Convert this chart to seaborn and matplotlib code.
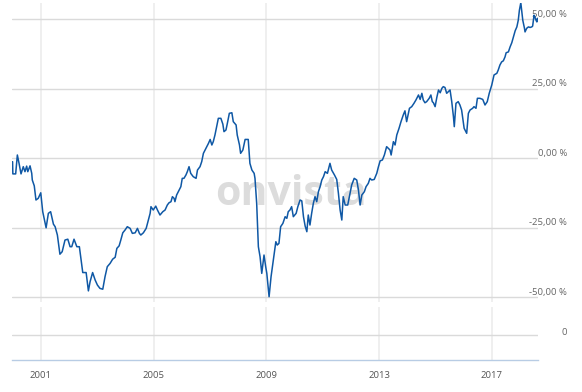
import pandas as pd
import matplotlib
matplotlib.use('Agg')
import matplotlib.pyplot as plt
import matplotlib.transforms as mtransforms
import seaborn as sns

# Performance in %, x as fractional year
years = [
    2000.00, 2000.01, 2000.11, 2000.17, 2000.23, 2000.30, 2000.38, 2000.44, 2000.50, 2000.54,
    2000.62, 2000.68, 2000.70, 2000.77, 2000.83, 2000.91,
    2001.00, 2001.07, 2001.19, 2001.27, 2001.35, 2001.45, 2001.51, 2001.59, 2001.68, 2001.76,
    2001.86, 2001.96,
    2002.04, 2002.10, 2002.18, 2002.28, 2002.37, 2002.49, 2002.61, 2002.69, 2002.75, 2002.84,
    2002.93,
    2003.01, 2003.10, 2003.20, 2003.28, 2003.36, 2003.46, 2003.55, 2003.64, 2003.70, 2003.78,
    2003.84, 2003.91, 2003.99,
    2004.07, 2004.17, 2004.25, 2004.35, 2004.43, 2004.50, 2004.55, 2004.64, 2004.74, 2004.82,
    2004.88, 2004.91, 2004.99,
    2005.08, 2005.14, 2005.23, 2005.33, 2005.41, 2005.49, 2005.55, 2005.62, 2005.67, 2005.73,
    2005.76, 2005.82, 2005.91, 2005.97,
    2006.02, 2006.08, 2006.15, 2006.20, 2006.26, 2006.32, 2006.41, 2006.51, 2006.56, 2006.65,
    2006.71, 2006.77, 2006.86, 2006.95,
    2007.01, 2007.07, 2007.12, 2007.18, 2007.24, 2007.30, 2007.39, 2007.46, 2007.50, 2007.57,
    2007.62, 2007.69, 2007.78, 2007.83, 2007.93, 2007.97,
    2008.05, 2008.09, 2008.17, 2008.25, 2008.36, 2008.42, 2008.49, 2008.57, 2008.60, 2008.66,
    2008.72, 2008.78, 2008.84, 2008.92, 2008.98,
    2009.02, 2009.10, 2009.17, 2009.25, 2009.34, 2009.39, 2009.45, 2009.51, 2009.59, 2009.67,
    2009.73, 2009.78, 2009.84, 2009.90, 2009.96,
    2010.06, 2010.12, 2010.20, 2010.26, 2010.32, 2010.38, 2010.44, 2010.49, 2010.55, 2010.61,
    2010.67, 2010.73, 2010.79, 2010.85, 2010.91, 2010.97,
    2011.03, 2011.09, 2011.17, 2011.26, 2011.32, 2011.42, 2011.50, 2011.56, 2011.62, 2011.68,
    2011.73, 2011.80, 2011.89, 2011.95,
    2012.03, 2012.12, 2012.21, 2012.27, 2012.33, 2012.39, 2012.48, 2012.54, 2012.62, 2012.68,
    2012.74, 2012.83, 2012.92, 2012.98,
    2013.04, 2013.12, 2013.19, 2013.27, 2013.33, 2013.39, 2013.43, 2013.51, 2013.57, 2013.63,
    2013.71, 2013.78, 2013.86, 2013.92, 2013.98,
    2014.04, 2014.08, 2014.16, 2014.24, 2014.31, 2014.40, 2014.46, 2014.52, 2014.57, 2014.63,
    2014.69, 2014.78, 2014.84, 2014.89, 2014.93, 2014.99,
    2015.05, 2015.11, 2015.17, 2015.23, 2015.28, 2015.34, 2015.40, 2015.46, 2015.52, 2015.58,
    2015.64, 2015.67, 2015.73, 2015.81, 2015.87, 2015.93, 2015.97,
    2016.02, 2016.08, 2016.11, 2016.17, 2016.23, 2016.32, 2016.37, 2016.44, 2016.49, 2016.58,
    2016.68, 2016.76, 2016.84, 2016.91,
    2017.00, 2017.08, 2017.18, 2017.23, 2017.29, 2017.35, 2017.41, 2017.47, 2017.51, 2017.59,
    2017.65, 2017.71, 2017.77, 2017.83, 2017.89, 2017.94, 2017.98,
    2018.03, 2018.06, 2018.10, 2018.16, 2018.18, 2018.24, 2018.30, 2018.36, 2018.42, 2018.45,
    2018.50, 2018.53, 2018.57, 2018.60, 2018.62,
]
perf = [
    -1.2, -5.6, -5.6, 1.2, -1.8, -5.6, -3.0, -4.8, -2.8, -4.8,
    -2.7, -5.4, -7.8, -9.9, -15.0, -14.4,
    -12.4, -19.2, -25.0, -19.8, -19.2, -23.7, -24.6, -27.6, -34.5, -33.6,
    -29.4, -29.1,
    -31.8, -31.8, -29.1, -31.8, -31.8, -41.1, -41.1, -47.7, -44.4, -41.1,
    -43.8,
    -45.6, -46.8, -47.1, -42.6, -39.0, -37.8, -36.3, -35.6, -32.4, -31.5,
    -29.4, -26.8, -25.8,
    -24.6, -25.2, -27.0, -26.8, -25.2, -27.0, -27.6, -26.8, -25.2, -22.2,
    -19.8, -17.4, -18.6,
    -17.2, -18.6, -20.4, -19.2, -18.6, -16.8, -16.0, -15.6, -13.8, -14.4,
    -15.6, -13.2, -11.4, -10.2,
    -7.2, -7.2, -6.0, -4.8, -3.0, -5.4, -6.6, -7.2, -4.2, -3.0,
    -1.2, 1.8, 3.6, 5.4,
    6.8, 4.8, 6.0, 8.4, 11.4, 14.4, 14.4, 12.3, 9.6, 10.2,
    12.6, 16.2, 16.4, 13.2, 12.0, 8.4,
    4.8, 1.8, 3.0, 6.8, 6.8, -1.8, -4.2, -5.4, -7.2, -16.2,
    -31.8, -35.4, -41.4, -34.8, -39.0,
    -41.4, -49.8, -42.6, -36.6, -30.0, -31.2, -30.6, -24.6, -23.4, -21.0,
    -21.6, -19.2, -18.6, -17.4, -21.0,
    -19.8, -17.4, -15.0, -15.3, -21.0, -24.4, -26.4, -20.4, -24.0, -19.8,
    -16.2, -13.8, -15.6, -12.0, -10.2, -7.8,
    -6.6, -4.8, -5.4, -1.8, -4.2, -6.0, -7.6, -12.6, -18.6, -22.2,
    -13.8, -16.8, -16.8, -13.8,
    -9.6, -7.2, -7.8, -11.4, -16.8, -13.2, -12.0, -10.2, -9.0, -7.2,
    -7.8, -7.6, -5.4, -3.0,
    -0.9, -0.6, 1.2, 4.2, 3.6, 3.0, 1.2, 6.0, 4.8, 8.4,
    10.8, 13.2, 15.6, 17.1, 13.2,
    16.2, 18.0, 18.6, 19.8, 21.0, 22.8, 21.2, 23.4, 21.0, 20.0,
    20.4, 21.6, 22.8, 20.4, 20.0, 18.6,
    21.9, 24.6, 23.6, 25.2, 25.8, 25.5, 23.4, 24.0, 24.6, 20.4,
    15.0, 11.4, 19.8, 20.4, 19.2, 17.4, 14.4,
    10.8, 9.6, 9.0, 16.2, 17.4, 18.0, 18.6, 18.0, 21.6, 21.6,
    21.2, 19.2, 20.4, 23.4,
    26.4, 30.0, 30.6, 31.8, 33.6, 34.7, 35.1, 36.5, 38.0, 38.3,
    40.1, 41.6, 43.7, 45.9, 47.3, 49.7, 53.3,
    56.0, 53.3, 49.7, 46.8, 45.5, 46.8, 47.3, 47.1, 47.3, 47.6,
    51.5, 50.9, 49.7, 49.1, 50.4,
]

y_ticks = [50, 25, 0, -25, -50]
y_labels = ['50,00 %', '25,00 %', '0,00 %', '-25,00 %', '-50,00 %']
x_ticks = [2001, 2005, 2009, 2013, 2017]
x_labels = ['2001', '2005', '2009', '2013', '2017']

df = pd.DataFrame({'year': years, 'perf': perf})

sns.set_style('white')
plt.rcParams['font.family'] = ['Open Sans', 'DejaVu Sans']

line_color = '#0f58a5'
hgrid = '#dadada'
vgrid = '#ececec'
axis_blue = '#b8cce4'
label_grey = '#666666'

fig = plt.figure(figsize=(5.82, 3.92), dpi=100)
ax = fig.add_axes([12 / 582, 90 / 392, 526 / 582, 299 / 392])
ax2 = fig.add_axes([12 / 582, 32 / 392, 526 / 582, 53 / 392])

x_lim = (1999.98, 2018.64)

# main panel
sns.lineplot(data=df, x='year', y='perf', ax=ax, color=line_color,
             linewidth=1.1, zorder=3)
ax.set_xlim(*x_lim)
ax.set_ylim(-51.7, 55.9)
ax.set_xticks(x_ticks)
ax.set_yticks(y_ticks)
ax.set_xticklabels([])
ax.set_yticklabels([])
ax.tick_params(length=0)
ax.grid(axis='y', color=hgrid, linewidth=1.0)
ax.grid(axis='x', color=vgrid, linewidth=1.2)
ax.set_xlabel('')
ax.set_ylabel('')
for s in ax.spines.values():
    s.set_visible(False)

ax.text(0.53, 0.324, 'onvista', transform=ax.transAxes, fontsize=29.5,
        fontweight='bold', color='#dcdcdc', ha='center', va='baseline', zorder=1)

# right side labels
up5 = mtransforms.ScaledTranslation(0, 5 / 100, fig.dpi_scale_trans)
trans = mtransforms.blended_transform_factory(ax.transAxes, ax.transData) + up5
for v, lab in zip(y_ticks, y_labels):
    ax.text(1 + 29 / 526, v, lab, transform=trans, ha='right', va='center',
            fontsize=6.8, color=label_grey, clip_on=False, zorder=2)

# lower panel
ax2.set_xlim(*x_lim)
ax2.set_ylim(-0.95, 1.05)
ax2.set_yticks([0])
ax2.set_yticklabels([])
ax2.set_xticks(x_ticks)
ax2.set_xticklabels(x_labels)
ax2.grid(axis='y', color=hgrid, linewidth=1.0)
ax2.grid(axis='x', color=vgrid, linewidth=1.2)
ax2.tick_params(axis='y', length=0)
ax2.tick_params(axis='x', length=6, width=1, color=axis_blue, labelsize=6.8,
                labelcolor='#555555', pad=2)
for side in ['top', 'left', 'right']:
    ax2.spines[side].set_visible(False)
ax2.spines['bottom'].set_color(axis_blue)
ax2.spines['bottom'].set_linewidth(1.0)

up2 = mtransforms.ScaledTranslation(0, 2 / 100, fig.dpi_scale_trans)
trans2 = mtransforms.blended_transform_factory(ax2.transAxes, ax2.transData) + up2
ax2.text(1 + 29 / 526, 0, '0', transform=trans2, ha='right', va='center',
         fontsize=6.8, color=label_grey, clip_on=False)

fig.savefig('out.png', dpi=100)
